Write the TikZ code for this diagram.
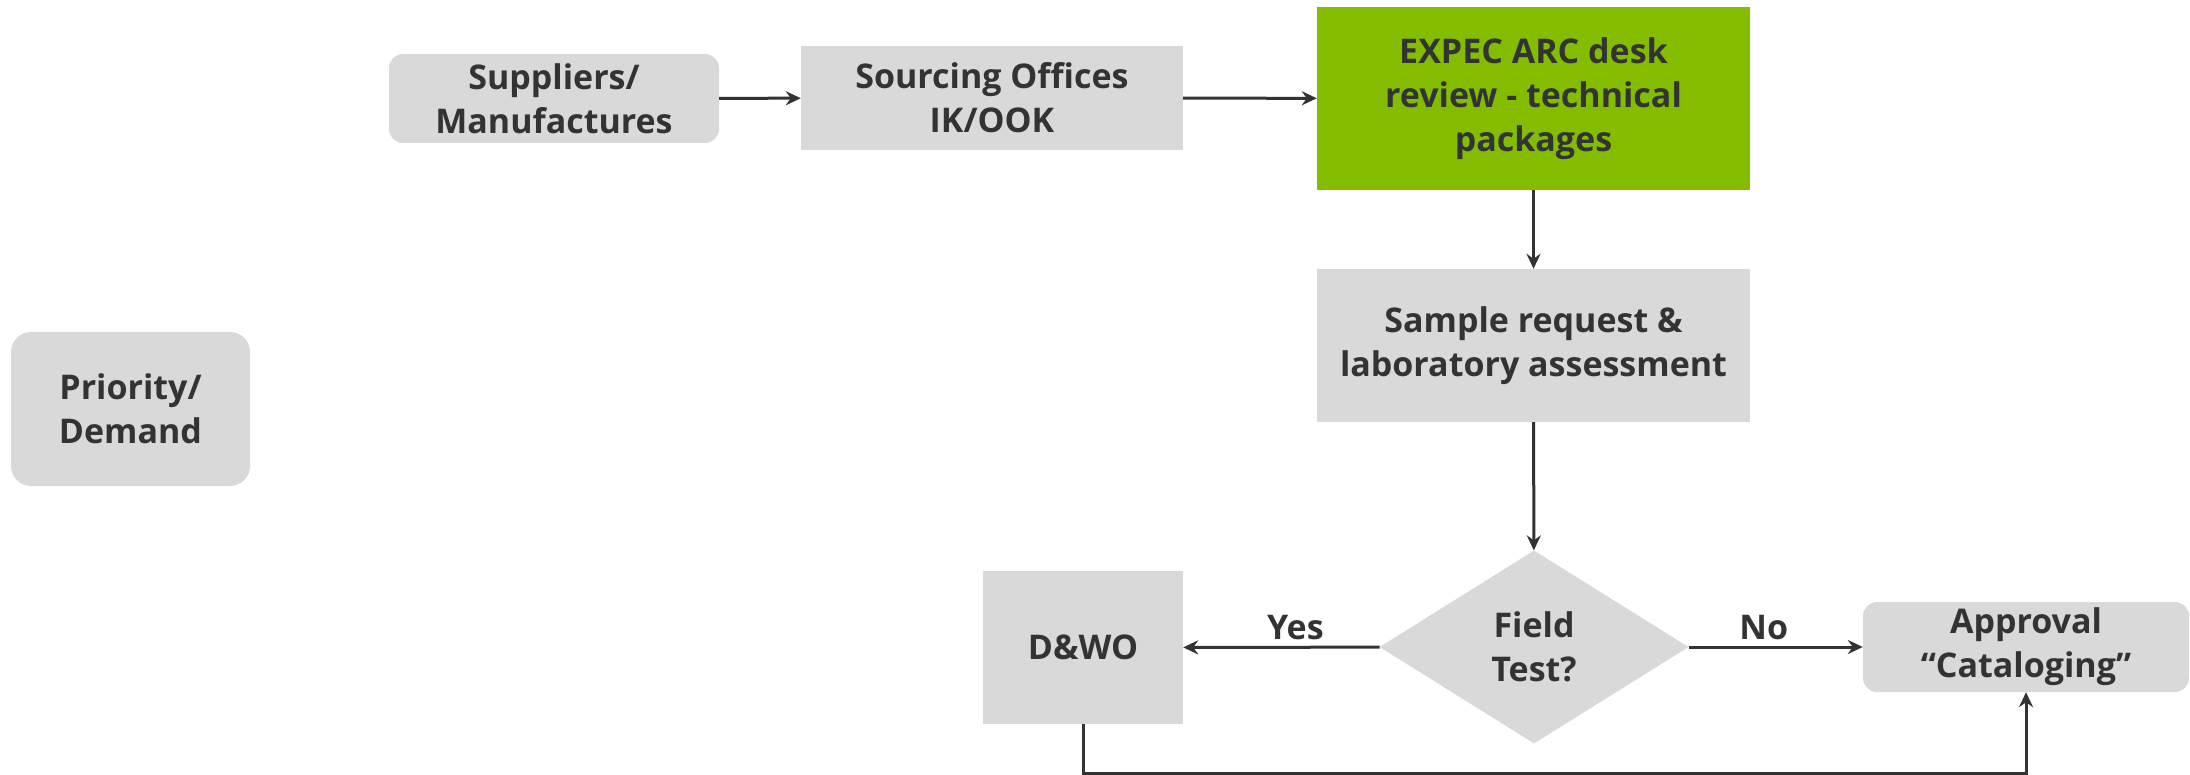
\documentclass[tikz,border=0pt]{standalone}
\usepackage{fontspec}
\setmainfont{Open Sans}
\usetikzlibrary{shapes.geometric,arrows.meta}
\definecolor{boxgray}{HTML}{D9D9D9}
\definecolor{txtgray}{HTML}{333333}
\definecolor{expgreen}{HTML}{84BD00}

\begin{document}
\begin{tikzpicture}
    [x=1pt,y=-1pt,
     every node/.style={font=\bfseries\fontsize{34}{44}\selectfont,text=txtgray,align=center,inner sep=0pt},
     box/.style={fill=boxgray,minimum width=#1},
     rbox/.style={fill=boxgray,rounded corners=14pt,minimum width=#1},
     decision/.style={diamond,fill=boxgray,minimum width=309pt,minimum height=193pt},
     flow/.style={draw=txtgray,line width=3pt,-{Stealth[length=15pt,width=14pt,inset=5pt]}},
     link/.style={draw=txtgray,line width=3pt}]
    \useasboundingbox (0,0) rectangle (2190,775);
    \node[rbox=330pt,minimum height=89pt] (sup) at (554,98.5) {Suppliers/\\Manufactures};
    \node[box=382pt,minimum height=104pt] (src) at (992,98) {Sourcing Offices\\IK/OOK};
    \node[box=433pt,minimum height=183pt,fill=expgreen] (desk) at (1533.5,98.5) {EXPEC ARC desk\\review - technical\\packages};
    \node[box=433pt,minimum height=153pt] (lab) at (1533.5,345.5) {Sample request \&\\laboratory assessment};
    \node[rbox=239pt,minimum height=154pt,rounded corners=20pt] (prio) at (130.5,409) {Priority/\\Demand};
    \node[decision] (test) at (1534,647) {Field\\Test?};
    \node[box=200pt,minimum height=153pt] (dwo) at (1083,647.5) {D\&WO};
    \node[rbox=326pt,minimum height=90pt] (appr) at (2026,647) {Approval\\“Cataloging”};
    \coordinate (low) at (1500,773);
    \draw[flow] (sup) -- (src);
    \draw[flow] (src) -- (desk);
    \draw[flow] (desk) -- (lab);
    \draw[flow] (lab) -- (test);
    \draw[flow] (test) -- node[above=6pt,xshift=14pt] {Yes} (dwo);
    \draw[flow] (test) -- node[above=6pt,xshift=-12pt] {No} (appr);
    \draw[link] (dwo.south) -- (dwo.south |- low) -- (low);
    \draw[flow] (low) -| (appr.south);
  \end{tikzpicture}
\end{document}
